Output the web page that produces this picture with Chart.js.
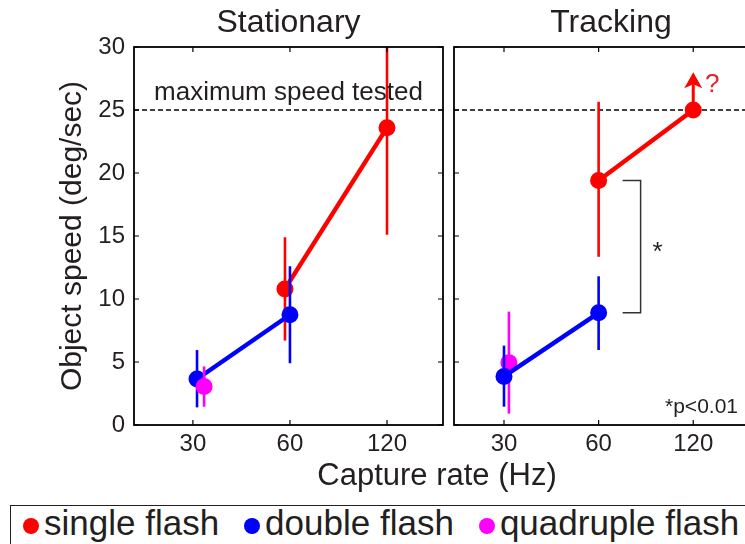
<!DOCTYPE html>
<html>
<head>
<meta charset="utf-8">
<script src="https://cdn.jsdelivr.net/npm/chart.js@4.4.1/dist/chart.umd.min.js"></script>
<style>
html, body { margin: 0; padding: 0; width: 745px; height: 544px; overflow: hidden; background: #fff; }
body { position: relative; font-family: "Liberation Sans", Arial, Helvetica, sans-serif; color: #231f20; }
#stationary-wrap { position: absolute; left: 0; top: 0; width: 450px; height: 460px; }
#tracking-wrap { position: absolute; left: 450px; top: 0; width: 318px; height: 460px; }
#xtitle { position: absolute; left: 237px; top: 457px; width: 400px; text-align: center; font-size: 31px; line-height: 36px; }
#legend { position: absolute; left: 10px; top: 505px; width: 800px; height: 60px; border: 1.5px solid #231f20; box-sizing: border-box; display: flex; align-items: flex-start; padding-left: 12px; }
.item { display: flex; align-items: center; font-size: 35px; line-height: 34px; margin-right: 25px; }
.dot { width: 16px; height: 16px; border-radius: 50%; margin-right: 5px; position: relative; top: 3px; }
</style>
</head>
<body>
<div id="stationary-wrap"><canvas id="stationary"></canvas></div>
<div id="tracking-wrap"><canvas id="tracking"></canvas></div>
<div id="xtitle">Capture rate (Hz)</div>
<div id="legend"></div>
<script>
// capture rates on the x axis
const rates = [30, 60, 120];
const yTicksStep = 5;
const maxSpeed = 25;

const seriesNames = ['single flash', 'double flash', 'quadruple flash'];
const seriesColors = ['#ff0000', '#0000ff', '#ff00ff'];

// Stationary panel (x slightly dodged around the rate, as in the figure)
const statSingleX = [57.9, 120];
const statSingleY = [10.8, 23.6];
const statSingleLo = [6.7, 15.1];
const statSingleHi = [14.9, 31];
const statDoubleX = [30.9, 60];
const statDoubleY = [3.65, 8.75];
const statDoubleLo = [1.4, 4.9];
const statDoubleHi = [5.95, 12.6];
const statQuadX = [32.5];
const statQuadY = [3.05];
const statQuadLo = [1.45];
const statQuadHi = [4.65];

// Tracking panel
const trackSingleX = [60, 120];
const trackSingleY = [19.4, 25.0];
const trackSingleLo = [13.35, null];
const trackSingleHi = [25.65, null];
const trackDoubleX = [30, 60];
const trackDoubleY = [3.85, 8.9];
const trackDoubleLo = [1.45, 5.95];
const trackDoubleHi = [6.3, 11.8];
const trackQuadX = [31.1];
const trackQuadY = [4.95];
const trackQuadLo = [0.9];
const trackQuadHi = [9.0];

const arrowTip = 28.0; // "?" arrow above the 120 Hz tracking point
const maxLabel = 'maximum speed tested';
const sigLabel = '*';
const pLabel = '*p<0.01';

Chart.defaults.font.family = '"Liberation Sans", Arial, Helvetica, sans-serif';
Chart.defaults.color = '#231f20';

function makeSeries(k, xs, ys, lo, hi, order) {
    return {
        label: seriesNames[k],
        data: xs.map((x, i) => ({x: x, y: ys[i]})),
        lo: lo, hi: hi,
        borderColor: seriesColors[k],
        backgroundColor: seriesColors[k],
        pointBackgroundColor: seriesColors[k],
        pointBorderColor: seriesColors[k],
        borderWidth: 4.5,
        pointRadius: 8.5,
        pointBorderWidth: 0,
        showLine: true,
        tension: 0,
        order: order
    };
}

function decoPlugin(extra) {
    return {
        id: 'deco',
        beforeDatasetsDraw(chart) {
            const {ctx, chartArea: a, scales: {y}} = chart;
            const py = y.getPixelForValue(maxSpeed);
            ctx.save();
            ctx.setLineDash([5, 3]);
            ctx.lineWidth = 1.4;
            ctx.strokeStyle = '#000';
            ctx.beginPath();
            ctx.moveTo(a.left, py);
            ctx.lineTo(a.right, py);
            ctx.stroke();
            ctx.restore();
        },
        beforeDatasetDraw(chart, args) {
            const ds = chart.data.datasets[args.index];
            if (!ds.lo) { return; }
            const {ctx, chartArea: a, scales: {x, y}} = chart;
            ctx.save();
            ctx.beginPath();
            ctx.rect(a.left, a.top, a.right - a.left, a.bottom - a.top);
            ctx.clip();
            ctx.strokeStyle = ds.borderColor;
            ctx.lineWidth = 2.6;
            ds.data.forEach((p, i) => {
                if (ds.lo[i] == null) { return; }
                const px = x.getPixelForValue(p.x);
                ctx.beginPath();
                ctx.moveTo(px, y.getPixelForValue(ds.lo[i]));
                ctx.lineTo(px, y.getPixelForValue(ds.hi[i]));
                ctx.stroke();
            });
            ctx.restore();
        },
        afterDatasetsDraw(chart) {
            const {ctx, chartArea: a, scales: {x, y}} = chart;
            ctx.save();
            // inward tick marks
            ctx.strokeStyle = '#000';
            ctx.lineWidth = 1.2;
            ctx.beginPath();
            rates.forEach(r => {
                const px = x.getPixelForValue(r);
                ctx.moveTo(px, a.top); ctx.lineTo(px, a.top + 5);
                ctx.moveTo(px, a.bottom); ctx.lineTo(px, a.bottom - 5);
            });
            y.ticks.forEach(t => {
                const py = y.getPixelForValue(t.value);
                ctx.moveTo(a.left, py); ctx.lineTo(a.left + 5, py);
                ctx.moveTo(a.right, py); ctx.lineTo(a.right - 5, py);
            });
            ctx.stroke();
            // axes box
            ctx.lineWidth = 1.8;
            ctx.strokeRect(a.left, a.top, a.right - a.left, a.bottom - a.top);
            ctx.restore();
            extra(chart);
        }
    };
}

function panelOptions(title, xmin, xmax, showY, padLeft, padRight) {
    return {
        responsive: true,
        maintainAspectRatio: false,
        animation: false,
        layout: {autoPadding: false, padding: {left: padLeft, right: padRight, top: 0, bottom: 0}},
        plugins: {
            legend: {display: false},
            tooltip: {enabled: false},
            title: {
                display: true, text: title, fullSize: false,
                font: {size: 32, weight: 'normal'}, color: '#231f20',
                padding: {top: 4, bottom: 4.6}
            }
        },
        scales: {
            x: {
                type: 'logarithmic', min: xmin, max: xmax,
                grid: {display: false, drawTicks: false},
                border: {display: false},
                afterBuildTicks: s => { s.ticks = rates.map(v => ({value: v})); },
                afterFit: s => { s.height = 35; },
                ticks: {
                    autoSkip: false, maxRotation: 0, padding: 5,
                    font: {size: 24}, color: '#231f20',
                    callback: v => String(v)
                }
            },
            y: {
                display: showY, min: 0, max: 30,
                grid: {display: false, drawTicks: false},
                border: {display: false},
                afterFit: s => { s.width = showY ? 134 : 0; },
                ticks: {stepSize: yTicksStep, padding: 9, font: {size: 24}, color: '#231f20'},
                title: {
                    display: true, text: 'Object speed (deg/sec)',
                    font: {size: 30}, color: '#231f20',
                    padding: {top: 55, bottom: 0}
                }
            }
        }
    };
}

// Stationary
new Chart(document.getElementById('stationary'), {
    type: 'line',
    data: {
        datasets: [
            makeSeries(0, statSingleX, statSingleY, statSingleLo, statSingleHi, 3),
            makeSeries(1, statDoubleX, statDoubleY, statDoubleLo, statDoubleHi, 2),
            makeSeries(2, statQuadX, statQuadY, statQuadLo, statQuadHi, 1)
        ]
    },
    options: panelOptions('Stationary', 19.7, 179, true, 0, 7),
    plugins: [decoPlugin(chart => {
        const {ctx, chartArea: a, scales: {y}} = chart;
        ctx.save();
        ctx.fillStyle = '#231f20';
        ctx.font = '26px "Liberation Sans", Arial, sans-serif';
        ctx.textAlign = 'center';
        ctx.textBaseline = 'alphabetic';
        ctx.fillText(maxLabel, (a.left + a.right) / 2, y.getPixelForValue(maxSpeed) - 10);
        ctx.restore();
    })]
});

// Tracking
new Chart(document.getElementById('tracking'), {
    type: 'line',
    data: {
        datasets: [
            makeSeries(0, trackSingleX, trackSingleY, trackSingleLo, trackSingleHi, 2),
            makeSeries(1, trackDoubleX, trackDoubleY, trackDoubleLo, trackDoubleHi, 1),
            makeSeries(2, trackQuadX, trackQuadY, trackQuadLo, trackQuadHi, 3)
        ]
    },
    options: panelOptions('Tracking', 20.8, 207.5, false, 4, 0),
    plugins: [decoPlugin(chart => {
        const {ctx, chartArea: a, scales: {x, y}} = chart;
        ctx.save();
        // arrow: speed limit reached, true value unknown
        const ax = x.getPixelForValue(rates[2]);
        const ay = y.getPixelForValue(trackSingleY[1]);
        const tip = y.getPixelForValue(arrowTip);
        ctx.strokeStyle = seriesColors[0];
        ctx.fillStyle = seriesColors[0];
        ctx.lineWidth = 3;
        ctx.beginPath();
        ctx.moveTo(ax, ay);
        ctx.lineTo(ax, tip + 12);
        ctx.stroke();
        ctx.beginPath();
        ctx.moveTo(ax, tip);
        ctx.lineTo(ax - 9, tip + 16);
        ctx.lineTo(ax, tip + 12);
        ctx.lineTo(ax + 9, tip + 16);
        ctx.closePath();
        ctx.fill();
        ctx.fillStyle = '#e8202a';
        ctx.font = '26px "Liberation Sans", Arial, sans-serif';
        ctx.textAlign = 'center';
        ctx.textBaseline = 'middle';
        ctx.fillText('?', ax + 19, tip + 13);

        // significance bracket between single and double flash at 60 Hz
        const bx = x.getPixelForValue(rates[1]);
        const y1 = y.getPixelForValue(trackSingleY[0]);
        const y2 = y.getPixelForValue(trackDoubleY[1]);
        ctx.strokeStyle = '#333';
        ctx.lineWidth = 1.5;
        ctx.beginPath();
        ctx.moveTo(bx + 24, y1);
        ctx.lineTo(bx + 42, y1);
        ctx.lineTo(bx + 42, y2);
        ctx.lineTo(bx + 24, y2);
        ctx.stroke();
        ctx.fillStyle = '#231f20';
        ctx.font = '26px "Liberation Sans", Arial, sans-serif';
        ctx.fillText(sigLabel, bx + 59, (y1 + y2) / 2 + 6);

        ctx.font = '21px "Liberation Sans", Arial, sans-serif';
        ctx.textAlign = 'right';
        ctx.textBaseline = 'alphabetic';
        ctx.fillText(pLabel, a.right - 30, a.bottom - 12);
        ctx.restore();
    })]
});

// legend row under both panels
const legend = document.getElementById('legend');
seriesNames.forEach((name, k) => {
    const item = document.createElement('div');
    item.className = 'item';
    const dot = document.createElement('span');
    dot.className = 'dot';
    dot.style.background = seriesColors[k];
    item.appendChild(dot);
    item.appendChild(document.createTextNode(name));
    legend.appendChild(item);
});
</script>
</body>
</html>
